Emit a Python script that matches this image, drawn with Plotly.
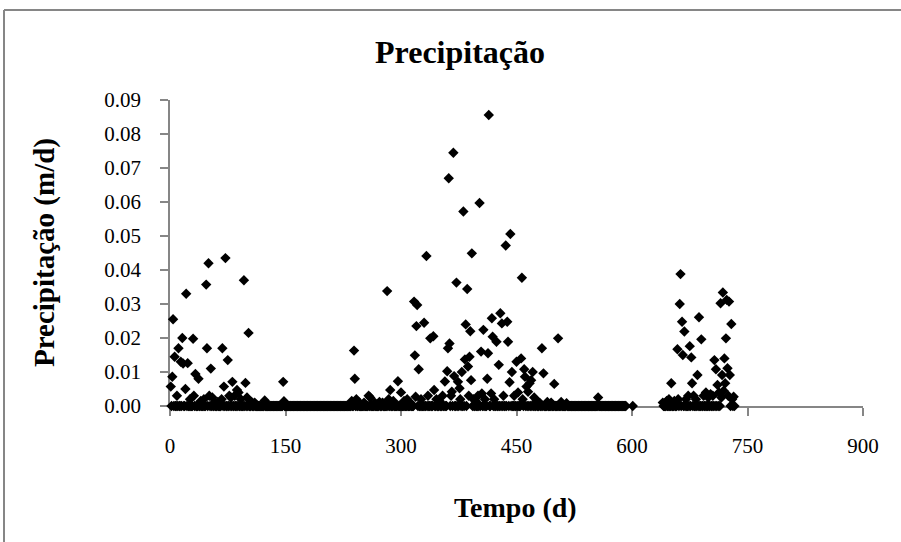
import plotly.graph_objects as go

# ---- data ----
rain_day = [
    1, 3, 4, 6, 9, 11, 14, 16, 17, 20, 21, 23, 26, 30, 31, 33, 37, 40, 44, 47, 48, 50, 51,
    53, 55, 58, 62, 67, 68, 70, 72, 75, 77, 79, 81, 84, 87, 89, 92, 96, 98, 100, 102, 106,
    110, 123, 147, 148,
    236, 239, 240, 242, 245, 252, 258, 260, 266, 272, 276, 282, 284, 286, 290, 296, 300,
    304, 308, 312, 317, 318, 319, 320, 321, 323, 326, 330, 333, 335, 338, 342, 343, 346,
    350, 354, 357, 360, 361, 362, 363, 365, 366, 368, 369, 372, 374, 376, 377, 379, 381,
    383, 384, 386, 387, 388, 389, 390, 391, 392, 394, 397, 400, 402, 404, 405, 407, 409,
    412, 413, 414, 417, 418, 419, 421, 424, 427, 429, 431, 433, 436, 438, 439, 441, 442,
    444, 447, 450, 452, 456, 457, 458, 460, 461, 463, 465, 467, 469, 471, 473, 476, 480,
    483, 485, 490, 495, 499, 504, 508, 515, 556,
    640, 645, 648, 651, 655, 659, 660, 662, 663, 665, 666, 668, 670, 673, 675, 677, 678,
    680, 683, 685, 687, 690, 693, 696, 699, 702, 705, 707, 709, 711, 713, 715, 716, 717,
    718, 719, 720, 721, 722, 723, 724, 725, 726, 727, 729, 730, 732,
]
rain_value = [
    0.0057, 0.0086, 0.0255, 0.0145, 0.0030, 0.0170, 0.0130, 0.0200, 0.0125, 0.0050, 0.0330,
    0.0126, 0.0020, 0.0198, 0.0030, 0.0094, 0.0080, 0.0015, 0.0020, 0.0357, 0.0170, 0.0420,
    0.0030, 0.0110, 0.0025, 0.0010, 0.0012, 0.0020, 0.0170, 0.0057, 0.0435, 0.0135, 0.0030,
    0.0025, 0.0071, 0.0030, 0.0047, 0.0040, 0.0020, 0.0370, 0.0068, 0.0025, 0.0215, 0.0012,
    0.0010, 0.0016, 0.0071, 0.0014,
    0.0015, 0.0163, 0.0080, 0.0020, 0.0012, 0.0010, 0.0030, 0.0025, 0.0010, 0.0012, 0.0010,
    0.0338, 0.0020, 0.0047, 0.0015, 0.0073, 0.0040,
    0.0015, 0.0020, 0.0010, 0.0307, 0.0149, 0.0027, 0.0235, 0.0297, 0.0108, 0.0020, 0.0245,
    0.0441, 0.0030, 0.0199, 0.0205, 0.0047, 0.0020,
    0.0015, 0.0030, 0.0072, 0.0102, 0.0170, 0.0670, 0.0184, 0.0030, 0.0042, 0.0745, 0.0088,
    0.0363, 0.0071, 0.0052, 0.0020, 0.0100, 0.0572,
    0.0137, 0.0240, 0.0344, 0.0116, 0.0030, 0.0145, 0.0220, 0.0076, 0.0449, 0.0020, 0.0015,
    0.0030, 0.0597, 0.0160, 0.0037, 0.0224, 0.0020,
    0.0080, 0.0155, 0.0856, 0.0037, 0.0258, 0.0204, 0.0020, 0.0189, 0.0121, 0.0273, 0.0243,
    0.0030, 0.0472, 0.0248, 0.0189, 0.0070, 0.0506,
    0.0100, 0.0030, 0.0130, 0.0040, 0.0140, 0.0377, 0.0020, 0.0108, 0.0086, 0.0057, 0.0042,
    0.0067, 0.0076, 0.0100, 0.0025, 0.0015, 0.0010,
    0.0170, 0.0096, 0.0012, 0.0010, 0.0065, 0.0199, 0.0012, 0.0008, 0.0025,
    0.0010, 0.0015, 0.0020, 0.0067, 0.0015, 0.0167, 0.0020, 0.0300, 0.0388, 0.0248, 0.0150,
    0.0219, 0.0020, 0.0030, 0.0176, 0.0143, 0.0067,
    0.0030, 0.0020, 0.0091, 0.0261, 0.0196, 0.0030, 0.0040, 0.0025, 0.0035, 0.0030, 0.0135,
    0.0108, 0.0062, 0.0040, 0.0302, 0.0025, 0.0091,
    0.0334, 0.0045, 0.0140, 0.0067, 0.0199, 0.0312, 0.0111, 0.0030, 0.0307, 0.0091, 0.0241,
    0.0020, 0.0027,
]
# periods (first day, last day) with daily records; days not listed above read 0
record_periods = [(1, 592), (601, 601), (640, 733)]

x_ticks = [0, 150, 300, 450, 600, 750, 900]
y_ticks = [0.00, 0.01, 0.02, 0.03, 0.04, 0.05, 0.06, 0.07, 0.08, 0.09]

title_text = "Precipitação"
x_title = "Tempo (d)"
y_title = "Precipitação (m/d)"

# ---- build the daily series ----
rain = dict(zip(rain_day, rain_value))
days, values = [], []
for a, b in record_periods:
    for d in range(a, b + 1):
        days.append(d)
        values.append(rain.get(d, 0.0))

SERIF = "Liberation Serif, Times New Roman, serif"
GRAY = "#868686"

fig = go.Figure(go.Scatter(
    x=days, y=values, mode="markers",
    marker=dict(symbol="diamond", size=8, color="black", line=dict(width=0)),
    cliponaxis=False, showlegend=False,
))

L, R, T, B = 170, 38, 100, 136
W, H = 901, 542
pw, ph = W - L - R, H - T - B

fig.update_layout(
    width=W, height=H,
    margin=dict(l=L, r=R, t=T, b=B),
    paper_bgcolor="white", plot_bgcolor="white",
    font=dict(family=SERIF, color="black", size=21),
    xaxis=dict(
        range=[0, 900], tickvals=x_ticks, ticktext=[str(v) for v in x_ticks],
        showgrid=False, zeroline=False, showline=True, linecolor=GRAY, linewidth=1.5,
        ticks="outside", ticklen=8, tickcolor=GRAY, tickwidth=1.5,
        tickfont=dict(family=SERIF, size=21), ticklabelstandoff=12, layer="below traces",
    ),
    yaxis=dict(
        range=[0, 0.09], tickvals=y_ticks, ticktext=[f"{v:.2f}" for v in y_ticks],
        showgrid=False, zeroline=False, showline=True, linecolor=GRAY, linewidth=1.5,
        ticks="outside", ticklen=8, tickcolor=GRAY, tickwidth=1.5,
        tickfont=dict(family=SERIF, size=21), ticklabelstandoff=15, layer="below traces",
    ),
    annotations=[
        dict(text=f"<b>{title_text}</b>", xref="paper", yref="paper",
             x=(460 - L) / pw, y=(H - B - 52) / ph, xanchor="center", yanchor="middle",
             showarrow=False, font=dict(family=SERIF, size=32)),
        dict(text=f"<b>{x_title}</b>", xref="paper", yref="paper",
             x=(515 - L) / pw, y=(H - B - 507) / ph, xanchor="center", yanchor="middle",
             showarrow=False, font=dict(family=SERIF, size=28)),
        dict(text=f"<b>{y_title}</b>", xref="paper", yref="paper",
             x=(44 - L) / pw, y=(H - B - 253) / ph, xanchor="center", yanchor="middle",
             textangle=-90, showarrow=False, font=dict(family=SERIF, size=29)),
    ],
    shapes=[
        dict(type="line", xref="paper", yref="paper",
             x0=(4 - L) / pw, x1=(4 - L) / pw, y0=(H - B - 560) / ph, y1=(H - B - 10) / ph,
             line=dict(color=GRAY, width=2)),
        dict(type="line", xref="paper", yref="paper",
             x0=(4 - L) / pw, x1=(920 - L) / pw, y0=(H - B - 10) / ph, y1=(H - B - 10) / ph,
             line=dict(color=GRAY, width=2)),
    ],
)

fig.write_html("out.html", config={"displayModeBar": False},
               post_script="document.body.style.margin='0px';")
